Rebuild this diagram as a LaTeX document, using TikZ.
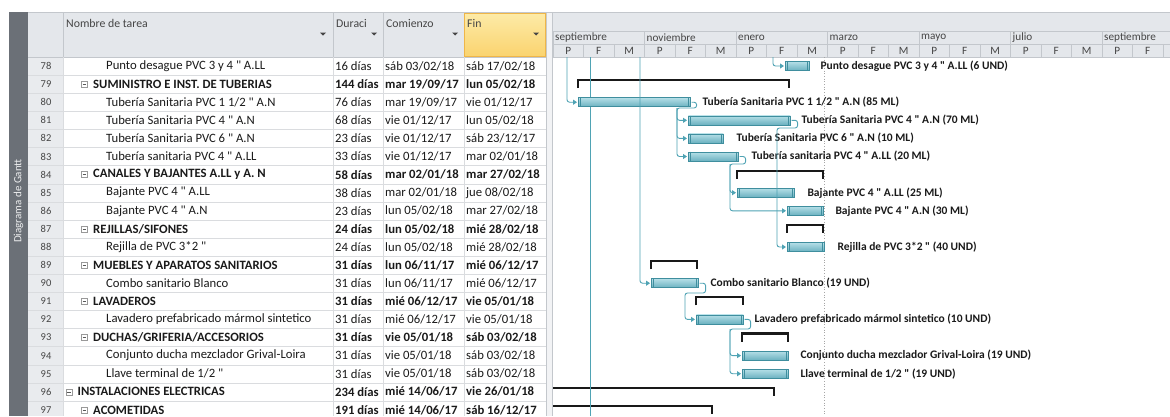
\documentclass[tikz,border=0pt]{standalone}
\usepackage{fontspec}
\setmainfont{Carlito}
\newfontfamily\carlito{Carlito}
\usetikzlibrary{arrows.meta}
\definecolor{hdr}{HTML}{E4E7EB}
\definecolor{hdrline}{HTML}{C3C7CC}
\definecolor{gridc}{HTML}{DADCDF}
\definecolor{strip}{HTML}{6B7077}
\definecolor{numbg}{HTML}{E9EBEE}
\definecolor{tealc}{HTML}{4FA3B4}
\definecolor{bardark}{HTML}{3F8E9E}
\definecolor{bartop}{HTML}{B5DFE7}
\definecolor{barmid}{HTML}{D4EFF4}
\definecolor{barbot}{HTML}{6BB1C0}
\definecolor{txt}{HTML}{1A1A1A}
\definecolor{hdrtxt}{HTML}{454545}
\definecolor{finA}{HTML}{FDEBA8}
\definecolor{finB}{HTML}{FAD36E}
\definecolor{finborder}{HTML}{EFB648}
\newcommand{\rowy}[1]{\pgfmathsetmacro{\yy}{66+(#1-78)*18.1}}
\newcommand{\subrow}[5]{%
  \rowy{#1}%
  \node[numtxt] (n#1) at (46,\yy) {#1};%
  \node[celltxt] (t#1) at (106,\yy) {#2};%
  \node[celltxt] (d#1) at (335,\yy) {#3};%
  \node[celltxt] (s#1) at (385,\yy) {#4};%
  \node[celltxt] (f#1) at (466,\yy) {#5};%
}
\newcommand{\sumrow}[6]{%
  \rowy{#1}%
  \node[numtxt] (n#1) at (46,\yy) {#1};%
  \node[minusbox] (m#1) at (#2,\yy) {};%
  \draw[gray!70!black,line width=0.6pt] ([xshift=1.4pt]m#1.west) -- ([xshift=-1.4pt]m#1.east);%
  \node[celltxt,font=\cellfont\bfseries] (t#1) at ({#2+8.5},\yy) {#3};%
  \node[celltxt,font=\cellfont\bfseries] (d#1) at (335,\yy) {#4};%
  \node[celltxt,font=\cellfont\bfseries] (s#1) at (385,\yy) {#5};%
  \node[celltxt,font=\cellfont\bfseries] (f#1) at (466,\yy) {#6};%
}
\newcommand{\gbar}[4]{%
  \rowy{#1}%
  \pgfmathsetmacro{\ww}{#3-#2}%
  \node[gbarstyle, minimum width={\ww*1pt}] (b#1) at (#2,\yy) {};%
  \draw[bardark,line width=0.6pt] ([xshift=2pt]b#1.north west) -- ([xshift=2pt]b#1.south west);%
  \draw[bardark,line width=0.6pt] ([xshift=-2pt]b#1.north east) -- ([xshift=-2pt]b#1.south east);%
  \node[glabel] (l#1) at ([xshift=#4]b#1.east) {};%
}
\newcommand{\gsum}[3]{%
  \rowy{#1}%
  \draw[sumline] (#2,\yy+4) -- (#2,\yy-4) -- (#3,\yy-4) -- (#3,\yy+4);%
}
\newcommand{\gsumopen}[2]{%
  \rowy{#1}%
  \draw[sumline] (553,\yy-4) -- (#2,\yy-4) -- (#2,\yy+4);%
}
\newcommand{\cellfont}{\carlito\fontsize{12.7}{14}\selectfont}
\tikzset{
  numtxt/.style={font=\carlito\fontsize{10.5}{12}\selectfont, text=hdrtxt, inner sep=0},
  celltxt/.style={font=\cellfont, text=txt, anchor=west, inner sep=0},
  hdrlabel/.style={font=\carlito\fontsize{11.8}{13}\selectfont, text=hdrtxt, anchor=west, inner sep=0},
  timelabel/.style={font=\carlito\fontsize{11.2}{12}\selectfont, text=hdrtxt, inner sep=0},
  minusbox/.style={draw=gray!80, fill=white, line width=0.5pt, minimum size=6pt, inner sep=0},
  gbarstyle/.style={draw=bardark, line width=0.6pt, top color=bartop, middle color=barmid, bottom color=barbot, minimum height=9pt, inner sep=0, anchor=west},
  glabel/.style={font=\carlito\fontsize{11.5}{12}\selectfont\bfseries, text=txt, anchor=west, inner sep=0},
  sumline/.style={draw=black!90, line width=2.2pt, line join=miter},
  link/.style={draw=tealc, line width=0.9pt, rounded corners=2.5pt, -{Triangle[length=4pt,width=5pt]}, shorten >=1pt},
  plainlink/.style={draw=tealc, line width=0.9pt},
  ddarrow/.style={fill=hdrtxt, draw=none},
}
\begin{document}
\begin{tikzpicture}[x=1pt,y=-1pt]
\useasboundingbox (0,0) rectangle (1170,416);
\clip (0,0) rectangle (1170,416);
\fill[white] (0,0) rectangle (1170,416);
% left strip
\fill[strip] (9,12) rectangle (28,416);
\node[rotate=90, text=white!88!strip, font=\carlito\fontsize{11}{12}\selectfont, inner sep=0] (side) at (18.5,201) {Diagrama de Gantt};
% header backgrounds
\fill[hdr] (28,12) rectangle (546,57);
\fill[numbg] (28,57) rectangle (63,416);
\fill[hdr] (553,12) rectangle (1170,57);
\fill[numbg!60!white] (546,12) rectangle (553,416);
\draw[hdrline] (546.5,12) -- (546.5,416);
\draw[hdrline] (552.5,12) -- (552.5,416);
\shade[top color=finA, bottom color=finB] (464,12.5) rectangle (546,57);
\draw[finborder, line width=0.8pt] (464.5,13) rectangle (545.6,56.6);
\draw[hdrline, line width=1.2pt] (28,12.5) -- (1170,12.5);
% table grid
\foreach \k in {1,...,19} \draw[gridc] (28,{57+18.1*\k}) -- (546,{57+18.1*\k});
\draw[hdrline] (28,57) -- (546,57);
\foreach \x in {63,333,383} {\draw[hdrline] (\x,13) -- (\x,57); \draw[gridc] (\x,57) -- (\x,416);}
\draw[gridc] (464,57) -- (464,416);
% header labels
\node[hdrlabel] (hname) at (66,23) {Nombre de tarea};
\node[hdrlabel] (hdur) at (336,23) {Duraci};
\node[hdrlabel] (hcom) at (386,23) {Comienzo};
\node[hdrlabel] (hfin) at (467,23) {Fin};
\foreach \x in {323,374,455,536} \fill[ddarrow] (\x-3,32.5) -- (\x+3,32.5) -- (\x,35.5) -- cycle;
% timescale header
\draw[hdrline] (553,31.5) -- (1170,31.5);
\draw[hdrline] (553,44) -- (1170,44);
\draw[hdrline] (553,57) -- (1170,57);
\foreach \m [count=\i from 0] in {septiembre,noviembre,enero,marzo,mayo,julio,septiembre} {
  \node[timelabel, anchor=west] (mon\i) at ({553+91.5*\i+2},37.8) {\m};
  \draw[hdrline] ({553+91.5*\i},31.5) -- ({553+91.5*\i},44);
}
\foreach \j in {0,...,19} {
  \pgfmathtruncatemacro{\r}{mod(\j,3)}
  \ifcase\r \def\lt{P}\or \def\lt{F}\or \def\lt{M}\fi
  \node[timelabel] (pfm\j) at ({553+30.5*\j+15.25},50.5) {\lt};
  \draw[hdrline] ({553+30.5*\j},44) -- ({553+30.5*\j},57);
}
\draw[hdrline] (1163,44) -- (1163,57);
% status lines
\draw[gray!70, dotted, line width=0.7pt] (824,57) -- (824,416);
% rows
\subrow{78}{Punto desague PVC 3 y 4 " A.LL}{16 días}{sáb 03/02/18}{sáb 17/02/18}
\sumrow{79}{84.5}{SUMINISTRO E INST. DE TUBERIAS}{144 días}{mar 19/09/17}{lun 05/02/18}
\subrow{80}{Tubería Sanitaria PVC 1 1/2 " A.N}{76 días}{mar 19/09/17}{vie 01/12/17}
\subrow{81}{Tubería Sanitaria PVC 4 " A.N}{68 días}{vie 01/12/17}{lun 05/02/18}
\subrow{82}{Tubería Sanitaria PVC 6 " A.N}{23 días}{vie 01/12/17}{sáb 23/12/17}
\subrow{83}{Tubería sanitaria PVC 4 " A.LL}{33 días}{vie 01/12/17}{mar 02/01/18}
\sumrow{84}{84.5}{CANALES Y BAJANTES A.LL y A. N}{58 días}{mar 02/01/18}{mar 27/02/18}
\subrow{85}{Bajante PVC 4 " A.LL}{38 días}{mar 02/01/18}{jue 08/02/18}
\subrow{86}{Bajante PVC 4 " A.N}{23 días}{lun 05/02/18}{mar 27/02/18}
\sumrow{87}{84.5}{REJILLAS/SIFONES}{24 días}{lun 05/02/18}{mié 28/02/18}
\subrow{88}{Rejilla de PVC 3*2 "}{24 días}{lun 05/02/18}{mié 28/02/18}
\sumrow{89}{84.5}{MUEBLES Y APARATOS SANITARIOS}{31 días}{lun 06/11/17}{mié 06/12/17}
\subrow{90}{Combo sanitario Blanco}{31 días}{lun 06/11/17}{mié 06/12/17}
\sumrow{91}{84.5}{LAVADEROS}{31 días}{mié 06/12/17}{vie 05/01/18}
\subrow{92}{Lavadero prefabricado mármol sintetico}{31 días}{mié 06/12/17}{vie 05/01/18}
\sumrow{93}{84.5}{DUCHAS/GRIFERIA/ACCESORIOS}{31 días}{vie 05/01/18}{sáb 03/02/18}
\subrow{94}{Conjunto ducha mezclador Grival-Loira}{31 días}{vie 05/01/18}{sáb 03/02/18}
\subrow{95}{Llave terminal de 1/2 "}{31 días}{vie 05/01/18}{sáb 03/02/18}
\sumrow{96}{69}{INSTALACIONES ELECTRICAS}{234 días}{mié 14/06/17}{vie 26/01/18}
\sumrow{97}{84.5}{ACOMETIDAS}{191 días}{mié 14/06/17}{sáb 16/12/17}
% summary brackets
\gsum{79}{578}{789}
\gsum{84}{737}{823}
\gsum{87}{787}{823}
\gsum{89}{651}{697}
\gsum{91}{696}{743}
\gsum{93}{742}{788}
\gsumopen{96}{774}
\gsumopen{97}{712}
% free connector ends
\coordinate (c78) at (773,57);
\coordinate (c80) at (567,57);
\coordinate (c90) at (640,57);
\coordinate (s590a) at (590,57);
\coordinate (s590b) at (590,416);
\draw[plainlink] (s590a) -- (s590b);
% bars
\gbar{78}{785}{809}{10pt}
\gbar{80}{578}{690}{11pt}
\gbar{81}{688}{790}{10pt}
\gbar{82}{688}{723}{12pt}
\gbar{83}{688}{738}{12pt}
\gbar{85}{737}{794}{12pt}
\gbar{86}{787}{823}{11pt}
\gbar{88}{787}{824}{12pt}
\gbar{90}{651}{698}{11pt}
\gbar{92}{696}{743}{10pt}
\gbar{94}{742}{788}{11pt}
\gbar{95}{742}{788}{11pt}
% labels
\node[glabel] at (l78) {Punto desague PVC 3 y 4 " A.LL (6 UND)};
\node[glabel] at (l80) {Tubería Sanitaria PVC 1 1/2 " A.N (85 ML)};
\node[glabel] at (l81) {Tubería Sanitaria PVC 4 " A.N (70 ML)};
\node[glabel] at (l82) {Tubería Sanitaria PVC 6 " A.N (10 ML)};
\node[glabel] at (l83) {Tubería sanitaria PVC 4 " A.LL (20 ML)};
\node[glabel] at (l85) {Bajante PVC 4 " A.LL (25 ML)};
\node[glabel] at (l86) {Bajante PVC 4 " A.N (30 ML)};
\node[glabel] at (l88) {Rejilla de PVC 3*2 " (40 UND)};
\node[glabel] at (l90) {Combo sanitario Blanco (19 UND)};
\node[glabel] at (l92) {Lavadero prefabricado mármol sintetico (10 UND)};
\node[glabel] at (l94) {Conjunto ducha mezclador Grival-Loira (19 UND)};
\node[glabel] at (l95) {Llave terminal de 1/2 " (19 UND)};
% connectors
\draw[link] (c78) |- (b78.west);
\draw[link] (c80) |- (b80.west);
\draw[link] (c90) |- (b90.west);
\draw[link] ([xshift=1pt]b80.east) -- ++(5,0) |- (677,108) |- (b81.west);
\draw[link] (677,108) |- (b82.west);
\draw[link] (677,108) |- (b83.west);
\draw[link] ([xshift=1pt]b81.east) -- ++(6,0) |- (777,128) |- (b88.west);
\draw[link] ([xshift=1pt]b83.east) -- ++(6,0) |- (730,164) |- (b85.west);
\draw[link] (730,164) |- (b86.west);
\draw[link] ([xshift=1pt]b90.east) -- ++(6,0) |- (685,293) |- (b92.west);
\draw[link] ([xshift=1pt]b92.east) -- ++(6,0) |- (730,329) |- (b94.west);
\draw[link] (730,329) |- (b95.west);
\end{tikzpicture}
\end{document}
